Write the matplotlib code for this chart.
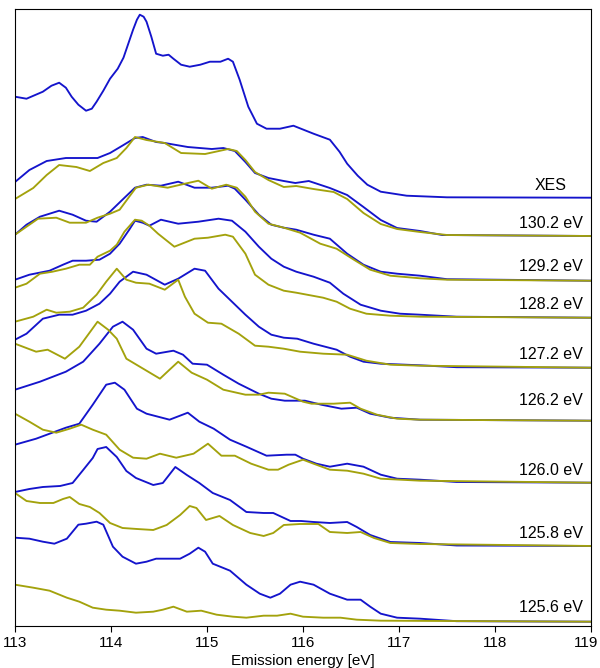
import matplotlib
matplotlib.use("Agg")
import matplotlib.pyplot as plt
import matplotlib.transforms as mtransforms

plt.rcParams['font.family'] = ['Liberation Sans', 'DejaVu Sans']

# spectra: energy [eV] and intensity above each baseline (arb. units)
xes_e = [113.0, 113.12, 113.29, 113.38, 113.46, 113.53, 113.59, 113.66, 113.74, 113.80, 113.85,
         113.92, 113.99, 114.07, 114.13, 114.18, 114.23, 114.27, 114.30, 114.34, 114.37, 114.42,
         114.47, 114.54, 114.60, 114.65, 114.73, 114.82, 114.93, 115.03, 115.14, 115.22, 115.27,
         115.34, 115.43, 115.52, 115.62, 115.76, 115.90, 116.11, 116.28, 116.38, 116.46, 116.57,
         116.67, 116.81, 117.08, 117.5, 119.0]
xes_i = [101, 99, 106, 112, 115, 110, 101, 93, 87, 89, 96, 107, 119, 129, 140, 154, 168, 178, 183,
         181, 176, 161, 144, 142, 143, 139, 133, 131, 133, 136, 136, 139, 136, 118, 91, 74, 69, 69,
         72, 64, 58, 46, 34, 22, 13, 6, 2, 0.4, 0]

b302_e = [113.0, 113.15, 113.33, 113.53, 113.74, 113.86, 113.99, 114.13, 114.25, 114.33, 114.47,
          114.56, 114.80, 115.05, 115.17, 115.29, 115.40, 115.50, 115.64, 115.80, 115.92, 116.06,
          116.28, 116.46, 116.63, 116.81, 116.98, 117.22, 117.45, 119.0]
b302_i = [54, 66, 75, 78, 78, 78, 83, 91, 98, 99, 94, 93, 89, 87, 88, 85, 74, 63, 58, 55, 53, 55, 48,
          41, 29, 16, 8, 5, 1, 0]
o302_e = [113.0, 113.19, 113.33, 113.46, 113.64, 113.78, 113.92, 114.06, 114.16, 114.25, 114.37,
          114.56, 114.73, 114.98, 115.22, 115.31, 115.40, 115.50, 115.64, 115.80, 115.93, 116.11,
          116.32, 116.46, 116.63, 116.81, 116.98, 117.22, 117.5, 119.0]
o302_i = [37, 48, 61, 71, 69, 65, 73, 78, 88, 99, 96, 93, 83, 82, 87, 85, 76, 64, 56, 49, 50, 47, 44,
          37, 23, 12, 7, 4, 1, 0]

b292_e = [113.0, 113.12, 113.26, 113.36, 113.46, 113.60, 113.74, 113.85, 113.99, 114.13, 114.25,
          114.37, 114.52, 114.70, 114.87, 115.05, 115.22, 115.29, 115.40, 115.54, 115.67, 115.80,
          115.93, 116.11, 116.28, 116.46, 116.63, 116.81, 116.98, 117.22, 117.5, 119.0]
b292_i = [46, 56, 64, 67, 70, 66, 60, 59, 69, 82, 93, 96, 95, 99, 93, 93, 95, 92, 81, 66, 56, 53, 51,
          46, 42, 27, 16, 9, 7, 5, 1.5, 0]
o292_e = [113.0, 113.12, 113.24, 113.43, 113.57, 113.74, 113.86, 113.99, 114.09, 114.19, 114.26,
          114.39, 114.59, 114.77, 114.91, 115.05, 115.20, 115.31, 115.40, 115.50, 115.64, 115.80,
          115.97, 116.18, 116.35, 116.53, 116.70, 116.91, 117.22, 117.5, 119.0]
o292_i = [46, 54, 62, 63, 58, 58, 63, 67, 71, 84, 93, 96, 93, 97, 100, 92, 96, 93, 84, 69, 57, 53, 48,
          37, 32, 21, 11, 5, 2.4, 1, 0]

b282_e = [113.0, 113.15, 113.36, 113.50, 113.60, 113.74, 113.88, 113.99, 114.09, 114.19, 114.25,
          114.33, 114.40, 114.52, 114.70, 114.91, 115.12, 115.26, 115.40, 115.54, 115.67, 115.80,
          115.93, 116.11, 116.28, 116.42, 116.60, 116.81, 117.01, 117.22, 117.6, 119.0]
b282_i = [38, 43, 47, 53, 57, 57, 58, 64, 74, 88, 97, 95, 92, 98, 94, 96, 99, 97, 86, 71, 59, 51, 46,
          41, 35, 24, 13, 7, 4, 3, 1, 0]
o282_e = [113.0, 113.12, 113.26, 113.39, 113.53, 113.67, 113.78, 113.86, 113.99, 114.06, 114.14,
          114.25, 114.32, 114.40, 114.49, 114.66, 114.87, 115.01, 115.19, 115.27, 115.40, 115.50,
          115.64, 115.80, 115.93, 116.21, 116.35, 116.49, 116.66, 116.91, 117.22, 119.0]
o282_i = [30, 34, 44, 46, 49, 53, 53, 61, 67, 73, 86, 98, 97, 92, 84, 71, 79, 80, 83, 81, 64, 43, 33,
          27, 25, 20, 16, 9, 4, 2, 1, 0]

b272_e = [113.0, 113.12, 113.29, 113.46, 113.60, 113.74, 113.88, 113.99, 114.09, 114.23, 114.37,
          114.56, 114.70, 114.87, 114.98, 115.12, 115.26, 115.40, 115.54, 115.67, 115.80, 115.94,
          116.11, 116.35, 116.49, 116.63, 116.81, 117.22, 117.6, 119.0]
b272_i = [28, 34, 49, 53, 53, 57, 64, 74, 86, 96, 93, 83, 89, 99, 97, 79, 66, 53, 41, 33, 30, 29, 24,
          18, 11, 6, 4, 2.4, 0.5, 0]
o272_e = [113.0, 113.19, 113.33, 113.43, 113.57, 113.71, 113.85, 113.95, 114.06, 114.16, 114.26,
          114.40, 114.56, 114.70, 114.77, 114.87, 115.01, 115.15, 115.33, 115.50, 115.64, 115.80,
          115.97, 116.21, 116.46, 116.66, 116.91, 117.22, 119.0]
o272_i = [46, 51, 58, 55, 56, 60, 73, 86, 99, 88, 85, 84, 78, 88, 71, 54, 45, 44, 34, 22, 21, 19, 16,
          14, 13, 7, 3, 2, 0]

b262_e = [113.0, 113.26, 113.53, 113.71, 113.88, 114.02, 114.12, 114.23, 114.37, 114.47, 114.65,
          114.75, 114.85, 115.00, 115.17, 115.33, 115.54, 115.67, 115.81, 116.02, 116.19, 116.40,
          116.56, 116.70, 116.91, 117.22, 119.0]
b262_i = [31, 39, 49, 59, 77, 94, 99, 91, 72, 67, 70, 66, 57, 56, 46, 37, 27, 22, 20, 20, 16, 12, 13,
          7, 3, 1, 0]
o262_e = [113.0, 113.22, 113.34, 113.52, 113.67, 113.86, 113.97, 114.06, 114.16, 114.30, 114.51,
          114.61, 114.70, 114.84, 115.00, 115.17, 115.40, 115.54, 115.64, 115.81, 116.0, 116.09,
          116.32, 116.49, 116.60, 116.77, 116.98, 117.22, 119.0]
o262_i = [77, 69, 71, 62, 74, 99, 91, 82, 62, 54, 42, 51, 59, 48, 41, 31, 26, 26, 28, 27, 19, 17, 17,
          18, 12, 6, 2, 1, 0]

b260_e = [113.0, 113.22, 113.53, 113.67, 113.81, 113.95, 114.04, 114.14, 114.27, 114.37, 114.61,
          114.80, 114.92, 115.07, 115.24, 115.41, 115.62, 115.83, 115.92, 116.0, 116.14, 116.28,
          116.46, 116.63, 116.81, 116.98, 117.22, 117.6, 119.0]
b260_i = [38, 44, 55, 59, 78, 98, 100, 93, 74, 69, 63, 70, 61, 54, 43, 36, 27, 28, 28, 24, 19, 16, 19,
          16, 8, 4, 3, 0.7, 0]
o260_e = [113.0, 113.15, 113.29, 113.43, 113.57, 113.69, 113.81, 113.95, 114.09, 114.23, 114.37,
          114.51, 114.68, 114.86, 115.01, 115.15, 115.29, 115.46, 115.64, 115.74, 115.85, 116.0,
          116.11, 116.28, 116.46, 116.63, 116.81, 117.22, 119.0]
o260_i = [69, 61, 53, 50, 54, 58, 53, 48, 33, 25, 24, 29, 25, 29, 39, 27, 27, 19, 13, 13, 18, 23, 19,
          13, 12, 9, 4, 2, 0]

b258_e = [113.0, 113.15, 113.29, 113.47, 113.60, 113.71, 113.81, 113.86, 113.95, 114.06, 114.16,
          114.26, 114.44, 114.54, 114.67, 114.79, 114.92, 115.06, 115.24, 115.41, 115.59, 115.69,
          115.87, 115.98, 116.11, 116.28, 116.46, 116.56, 116.70, 116.91, 117.22, 117.6, 119.0]
b258_i = [54, 57, 59, 60, 63, 76, 88, 97, 99, 89, 75, 68, 61, 63, 79, 71, 63, 53, 46, 34, 33, 33, 25,
          25, 24, 23, 24, 19, 11, 4, 3, 0.5, 0]
o258_e = [113.0, 113.12, 113.26, 113.40, 113.50, 113.57, 113.67, 113.78, 113.88, 113.99, 114.12,
          114.27, 114.44, 114.58, 114.72, 114.82, 114.89, 114.99, 115.13, 115.27, 115.45, 115.59,
          115.69, 115.80, 115.97, 116.16, 116.28, 116.46, 116.60, 116.74, 116.91, 117.22, 119.0]
o258_i = [53, 45, 43, 43, 47, 49, 42, 39, 33, 23, 18, 17, 16, 21, 31, 40, 38, 26, 30, 21, 13, 10, 13,
          21, 22, 22, 14, 13, 14, 8, 3, 2, 0]

b256_e = [113.0, 113.15, 113.29, 113.41, 113.54, 113.66, 113.74, 113.85, 113.92, 114.02, 114.12,
          114.26, 114.37, 114.47, 114.72, 114.82, 114.91, 114.98, 115.06, 115.24, 115.41, 115.55,
          115.66, 115.76, 115.87, 115.97, 116.11, 116.28, 116.46, 116.60, 116.70, 116.81, 116.98,
          117.22, 117.6, 119.0]
b256_i = [84, 83, 80, 78, 83, 97, 98, 100, 97, 75, 65, 58, 60, 63, 63, 68, 74, 70, 58, 51, 37, 28, 24,
          28, 37, 40, 37, 28, 22, 22, 15, 8, 4, 3, 0.5, 0]
o256_e = [113.0, 113.19, 113.36, 113.54, 113.67, 113.81, 113.95, 114.09, 114.26, 114.44, 114.54,
          114.65, 114.79, 114.94, 115.10, 115.27, 115.41, 115.59, 115.73, 115.87, 116.0, 116.21,
          116.39, 116.56, 116.81, 119.0]
o256_i = [37, 34, 31, 24, 20, 14, 12, 11, 9, 10, 12, 15, 10, 11, 7, 5, 4, 6, 6, 8, 5, 4, 4, 2, 1, 0]

labels = ["XES", "130.2 eV", "129.2 eV", "128.2 eV", "127.2 eV",
          "126.2 eV", "126.0 eV", "125.8 eV", "125.6 eV"]
blue_curves = [(xes_e, xes_i), (b302_e, b302_i), (b292_e, b292_i), (b282_e, b282_i),
               (b272_e, b272_i), (b262_e, b262_i), (b260_e, b260_i), (b258_e, b258_i),
               (b256_e, b256_i)]
olive_curves = [None, (o302_e, o302_i), (o292_e, o292_i), (o282_e, o282_i),
                (o272_e, o272_i), (o262_e, o262_i), (o260_e, o260_i), (o258_e, o258_i),
                (o256_e, o256_i)]

# vertical stacking of the spectra and where each label sits above its baseline
offsets = [428.3, 390, 345.3, 308.3, 258.3, 205.3, 143.3, 80, 4.3]
label_lift = [12, 13, 14, 13, 13, 20, 12, 12, 14]

BLUE = "#1414cc"
OLIVE = "#a3a20c"

fig = plt.figure(figsize=(6.0, 6.68), dpi=100)
ax = fig.add_axes([0.025, 0.0629, 0.96, 0.9236])

for k in range(len(labels)):
    e, i = blue_curves[k]
    ax.plot(e, [v + offsets[k] for v in i], color=BLUE, lw=1.35,
            solid_joinstyle='round', solid_capstyle='round')
    if olive_curves[k] is not None:
        e, i = olive_curves[k]
        ax.plot(e, [v + offsets[k] for v in i], color=OLIVE, lw=1.35,
                solid_joinstyle='round', solid_capstyle='round')
    ax.text(118.58, offsets[k] + label_lift[k], labels[k], ha='center', va='center', fontsize=11.5)

ax.set_xlim(113, 119)
ax.set_ylim(0, 617)
ax.set_xticks(range(113, 120))
ax.set_yticks([])
ax.tick_params(axis='x', direction='out', length=4, labelsize=11, pad=3)
ax.set_xlabel("Emission energy [eV]", fontsize=11, labelpad=3)

# keep the last tick label inside the canvas
last = ax.get_xticklabels()[-1]
last.set_transform(last.get_transform() + mtransforms.ScaledTranslation(-5 / 100, 0, fig.dpi_scale_trans))

fig.savefig("out.png", dpi=100)
